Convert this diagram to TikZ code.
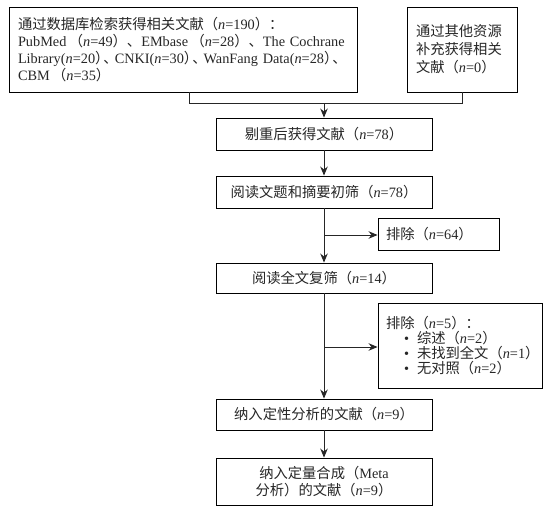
\documentclass[tikz,border=0pt]{standalone}
\usepackage{fontspec}
\setmainfont{Liberation Serif}
\newfontfamily\cjk{Noto Sans CJK SC}
\usetikzlibrary{arrows.meta}
\newcommand{\cnt}[1]{{\cjk（}\textit{n}=#1{\cjk）}}
\newcommand{\cpr}{{\cjk ）}\hspace{-6pt}{\cjk 、}\hspace{-3pt}}
\begin{document}
\begin{tikzpicture}[x=1pt,y=-1pt,
  box/.style={draw=black,line width=0.9pt,inner sep=0pt,text=black!85,
    font=\fontsize{14.3}{17}\selectfont},
  conn/.style={line width=0.9pt,draw=black!85},
  arr/.style={conn,-{Stealth[length=9pt,width=7.5pt]}}]
\useasboundingbox (0,0) rectangle (555,514);
\node[box,minimum width=348pt,minimum height=85pt,align=left,text width=330pt] (b1) at (183,49.5)
 {{\cjk 通过数据库检索获得相关文献}\cnt{190}{\cjk ：}\\
  \mbox{PubMed\,\cnt{49}{\cjk 、}EMbase\,\cnt{28}{\cjk 、}The Cochrane}\\
  \mbox{Library(\textit{n}=20\cpr CNKI(\textit{n}=30\cpr WanFang Data(\textit{n}=28\cpr}\\
  CBM\,\cnt{35}};
\node[box,minimum width=110pt,minimum height=85pt,align=left,text width=92pt,
  font=\fontsize{14.3}{18}\selectfont] (b2) at (462,49.5)
 {{\cjk 通过其他资源}\\{\cjk 补充获得相关}\\{\cjk 文献}\cnt{0}};
\node[box,minimum width=216pt,minimum height=32pt] (b3) at (324,134) {{\cjk 剔重后获得文献}\cnt{78}};
\node[box,minimum width=216pt,minimum height=32pt] (b4) at (324,192) {{\cjk 阅读文题和摘要初筛}\cnt{78}};
\node[box,minimum width=121pt,minimum height=32pt,align=left,text width=105pt] (e1) at (438.5,234) {{\cjk 排除}\cnt{64}};
\node[box,minimum width=216pt,minimum height=30pt] (b5) at (324,278) {{\cjk 阅读全文复筛}\cnt{14}};
\node[box,minimum width=164pt,minimum height=85pt,align=left,text width=148pt,
  font=\fontsize{14.3}{14.8}\selectfont] (e2) at (460,345.5)
 {{\cjk 排除}\cnt{5}{\cjk ：}\\
  \mbox{\hspace*{18pt}\textbullet\hspace{8pt}{\cjk 综述}\cnt{2}}\\
  \mbox{\hspace*{18pt}\textbullet\hspace{8pt}{\cjk 未找到全文}\cnt{1}}\\
  \mbox{\hspace*{18pt}\textbullet\hspace{8pt}{\cjk 无对照}\cnt{2}}};
\node[box,minimum width=216pt,minimum height=31pt] (b6) at (324,414.5) {{\cjk 纳入定性分析的文献}\cnt{9}};
\node[box,minimum width=216pt,minimum height=47pt,align=center] (b7) at (324,481.5)
 {{\cjk 纳入定量合成}{\cjk （}Meta\\{\cjk 分析}{\cjk ）的文献}\cnt{9}};
\coordinate (j1) at (189,103);
\coordinate (j2) at (462,103);
\coordinate (jm) at (324,103);
\coordinate (k1) at (324,235);
\coordinate (k2) at (324,347);
\draw[conn] (j1 |- b1.south) -- (j1) -- (j2) -- (b2.south);
\draw[arr] (jm) -- (b3.north);
\draw[arr] (b3) -- (b4);
\draw[arr] (b4) -- (b5);
\draw[arr] (k1) -- (e1.west |- k1);
\draw[arr] (b5) -- (b6);
\draw[arr] (k2) -- (e2.west |- k2);
\draw[arr] (b6) -- (b7);
\end{tikzpicture}
\end{document}
